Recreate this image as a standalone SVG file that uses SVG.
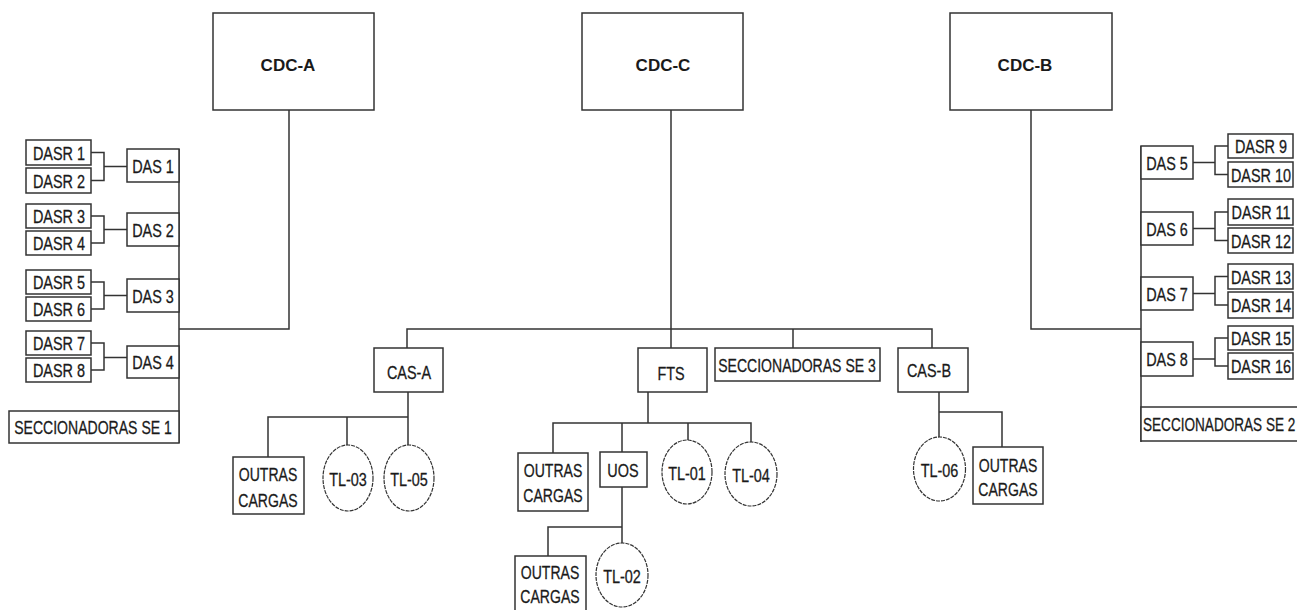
<svg xmlns="http://www.w3.org/2000/svg" width="1297" height="610" viewBox="0 0 1297 610">
<style>
rect{fill:#fff;stroke:#333;stroke-width:1.5}
ellipse{fill:#fff;stroke:#333;stroke-width:1.2;stroke-dasharray:4 1}
.c path{fill:none;stroke:#333;stroke-width:1.5}
text{font-family:"Liberation Sans",Arial,sans-serif;font-size:19px;fill:#1a1a1a;stroke:#1a1a1a;stroke-width:0.3;text-anchor:middle}
text.big{font-weight:bold;font-size:17px;stroke:none}
</style>
<rect x="0" y="0" width="1297" height="610" style="fill:#fff;stroke:none"/>
<g class="c" id="connectors">
<path d="M289 110V329H179M179 149V443"/>
<path d="M91 152.5H104V180.5H91M104 166.5H127"/>
<path d="M91 216H104V243H91M104 229.5H127"/>
<path d="M91 282H104V309H91M104 295.5H127"/>
<path d="M91 343H104V370H91M104 357.5H127"/>
<path d="M1031 110V329H1141M1141 146V442"/>
<path d="M1228 146H1215V174.5H1228M1193 162.5H1215"/>
<path d="M1228 212H1215V240.5H1228M1193 228.5H1215"/>
<path d="M1228 276.5H1215V305H1228M1193 293.5H1215"/>
<path d="M1228 338H1215V366H1228M1193 359H1215"/>
<path d="M671 110V348M407 348V329H932V348M793 329V348"/>
<path d="M408 392V445M268 457V417H408M347 417V445"/>
<path d="M648 392V423M553 453V423H751V443M622 423V452M688 423V440"/>
<path d="M622 487V543M548 556V527H622"/>
<path d="M939 392V437M939 412H1002V447"/>
</g>
<g id="cdc-a"><rect x="213" y="13" width="161" height="97"/><text class="big" x="288" y="71">CDC-A</text></g>
<g id="cdc-c"><rect x="582" y="13" width="161" height="97"/><text class="big" x="663" y="71">CDC-C</text></g>
<g id="cdc-b"><rect x="950" y="13" width="162" height="97"/><text class="big" x="1025" y="71">CDC-B</text></g>
<g id="dasr1"><rect x="26" y="140" width="65" height="25"/><text transform="translate(59 159.5) scale(.76 1)">DASR 1</text></g>
<g id="dasr2"><rect x="26" y="168" width="65" height="25"/><text transform="translate(59 187.5) scale(.76 1)">DASR 2</text></g>
<g id="dasr3"><rect x="26" y="204" width="65" height="24"/><text transform="translate(59 223) scale(.76 1)">DASR 3</text></g>
<g id="dasr4"><rect x="26" y="231" width="65" height="24"/><text transform="translate(59 250) scale(.76 1)">DASR 4</text></g>
<g id="dasr5"><rect x="26" y="270" width="65" height="24"/><text transform="translate(59 289) scale(.76 1)">DASR 5</text></g>
<g id="dasr6"><rect x="26" y="297" width="65" height="24"/><text transform="translate(59 316) scale(.76 1)">DASR 6</text></g>
<g id="dasr7"><rect x="26" y="331" width="65" height="24"/><text transform="translate(59 350) scale(.76 1)">DASR 7</text></g>
<g id="dasr8"><rect x="26" y="358" width="65" height="24"/><text transform="translate(59 377) scale(.76 1)">DASR 8</text></g>
<g id="das1"><rect x="127" y="149" width="52" height="33"/><text transform="translate(153 172.5) scale(.76 1)">DAS 1</text></g>
<g id="das2"><rect x="127" y="213" width="52" height="33"/><text transform="translate(153 236.5) scale(.76 1)">DAS 2</text></g>
<g id="das3"><rect x="127" y="279" width="52" height="33"/><text transform="translate(153 302.5) scale(.76 1)">DAS 3</text></g>
<g id="das4"><rect x="127" y="346" width="52" height="32"/><text transform="translate(153 369) scale(.76 1)">DAS 4</text></g>
<g id="se1"><rect x="9" y="411" width="170" height="32"/><text transform="translate(93 434) scale(.74 1)">SECCIONADORAS SE 1</text></g>
<g id="das5"><rect x="1141" y="146" width="52" height="33"/><text transform="translate(1167 169.5) scale(.76 1)">DAS 5</text></g>
<g id="das6"><rect x="1141" y="212" width="52" height="33"/><text transform="translate(1167 235.5) scale(.76 1)">DAS 6</text></g>
<g id="das7"><rect x="1141" y="277" width="52" height="33"/><text transform="translate(1167 300.5) scale(.76 1)">DAS 7</text></g>
<g id="das8"><rect x="1141" y="342" width="52" height="34"/><text transform="translate(1167 366) scale(.76 1)">DAS 8</text></g>
<g id="dasr9"><rect x="1228" y="134" width="65" height="24"/><text transform="translate(1261 153) scale(.76 1)">DASR 9</text></g>
<g id="dasr10"><rect x="1228" y="162" width="65" height="25"/><text transform="translate(1261 181.5) scale(.76 1)">DASR 10</text></g>
<g id="dasr11"><rect x="1228" y="199" width="65" height="26"/><text transform="translate(1261 219) scale(.76 1)">DASR 11</text></g>
<g id="dasr12"><rect x="1228" y="228" width="65" height="25"/><text transform="translate(1261 247.5) scale(.76 1)">DASR 12</text></g>
<g id="dasr13"><rect x="1228" y="264" width="65" height="25"/><text transform="translate(1261 283.5) scale(.76 1)">DASR 13</text></g>
<g id="dasr14"><rect x="1228" y="292" width="65" height="26"/><text transform="translate(1261 312) scale(.76 1)">DASR 14</text></g>
<g id="dasr15"><rect x="1228" y="326" width="65" height="24"/><text transform="translate(1261 345) scale(.76 1)">DASR 15</text></g>
<g id="dasr16"><rect x="1228" y="353" width="65" height="26"/><text transform="translate(1261 373) scale(.76 1)">DASR 16</text></g>
<g id="se2"><rect x="1141" y="407" width="170" height="34"/><text transform="translate(1143 431) scale(.715 1)" style="text-anchor:start">SECCIONADORAS SE 2</text></g>
<g id="cas-a"><rect x="374" y="348" width="69" height="44"/><text transform="translate(409 378.5) scale(.76 1)">CAS-A</text></g>
<g id="fts"><rect x="638" y="348" width="69" height="44"/><text transform="translate(671 379.5) scale(.76 1)">FTS</text></g>
<g id="se3"><rect x="715" y="348" width="165" height="33"/><text transform="translate(797 371.5) scale(.74 1)">SECCIONADORAS SE 3</text></g>
<g id="cas-b"><rect x="898" y="348" width="70" height="44"/><text transform="translate(929 376.5) scale(.76 1)">CAS-B</text></g>
<g id="outras1"><rect x="233" y="457" width="71" height="57"/><text transform="translate(268 480.5) scale(.74 1)">OUTRAS</text><text transform="translate(268 506.5) scale(.74 1)">CARGAS</text></g>
<g id="tl03"><ellipse cx="348" cy="478" rx="25" ry="33"/><text transform="translate(348 485.5) scale(.76 1)">TL-03</text></g>
<g id="tl05"><ellipse cx="409" cy="478" rx="25" ry="33"/><text transform="translate(409 485.5) scale(.76 1)">TL-05</text></g>
<g id="outras2"><rect x="518" y="453" width="70" height="58"/><text transform="translate(553 476.5) scale(.74 1)">OUTRAS</text><text transform="translate(553 501.5) scale(.74 1)">CARGAS</text></g>
<g id="uos"><rect x="600" y="452" width="47" height="35"/><text transform="translate(623 476.5) scale(.76 1)">UOS</text></g>
<g id="tl01"><ellipse cx="687" cy="472" rx="25" ry="32"/><text transform="translate(687 479.5) scale(.76 1)">TL-01</text></g>
<g id="tl04"><ellipse cx="751" cy="474" rx="26" ry="32"/><text transform="translate(751 481.5) scale(.76 1)">TL-04</text></g>
<g id="outras3"><rect x="515" y="556" width="71" height="60"/><text transform="translate(550 578.5) scale(.74 1)">OUTRAS</text><text transform="translate(550 602.5) scale(.74 1)">CARGAS</text></g>
<g id="tl02"><ellipse cx="622" cy="575" rx="26" ry="32"/><text transform="translate(622 582.5) scale(.76 1)">TL-02</text></g>
<g id="tl06"><ellipse cx="939.5" cy="469" rx="26" ry="32"/><text transform="translate(939.5 476.5) scale(.76 1)">TL-06</text></g>
<g id="outras4"><rect x="973" y="447" width="70" height="57"/><text transform="translate(1008 471.5) scale(.74 1)">OUTRAS</text><text transform="translate(1008 495.5) scale(.74 1)">CARGAS</text></g>
</svg>
